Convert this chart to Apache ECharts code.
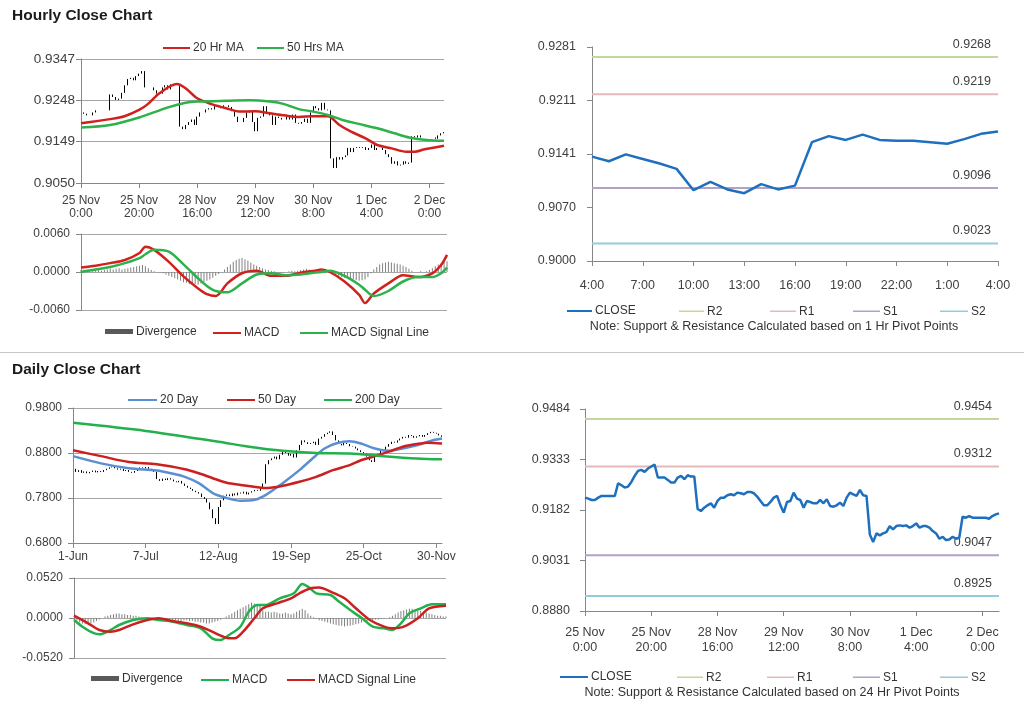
<!DOCTYPE html>
<html><head><meta charset="utf-8">
<script src="https://cdn.jsdelivr.net/npm/echarts@6.0.0/dist/echarts.min.js"></script>
<style>html,body{margin:0;padding:0;background:#fff}#c{width:1024px;height:706px}</style>
</head><body><div id="c"></div>
<script>
// ---------- DATA ----------
const hourTickHours = [0,20,40,60,80,100,120];
const hourTickLabels = ['25 Nov\n0:00','25 Nov\n20:00','28 Nov\n16:00','29 Nov\n12:00','30 Nov\n8:00','1 Dec\n4:00','2 Dec\n0:00'];
const hourlyClose = [0.9219,0.9216,0.9212,0.9212,0.9219,0.9224,0.9224,0.9224,0.9224,0.9224,
0.9262,0.9256,0.9249,0.9252,0.9266,0.9284,0.9299,0.9302,0.9296,0.9306,
0.9312,0.9318,0.9279,0.9279,0.9279,0.9272,0.9264,0.9264,0.9279,0.9284,
0.9274,0.9286,0.9282,0.9282,0.9185,0.9179,0.9189,0.9196,0.9202,0.9189,
0.9209,0.9219,0.9219,0.9226,0.9229,0.9226,0.9234,0.9232,0.9229,0.9236,
0.9236,0.9232,0.9222,0.9209,0.9196,0.9196,0.9206,0.9219,0.9224,0.9196,
0.9174,0.9206,0.9209,0.9234,0.9216,0.9212,0.9189,0.9209,0.9206,0.9202,
0.9202,0.9212,0.9202,0.9214,0.9194,0.9192,0.9196,0.9204,0.9194,0.9219,
0.9234,0.9229,0.9224,0.9242,0.9226,0.9224,0.9109,0.9086,0.9112,0.9106,
0.9112,0.9116,0.9134,0.9124,0.9134,0.9136,0.9134,0.9136,0.9129,0.9134,
0.9142,0.9129,0.9134,0.9134,0.9129,0.9119,0.9112,0.9096,0.9102,0.9092,
0.9094,0.9102,0.9096,0.9099,0.9162,0.9159,0.9164,0.9159,0.9159,0.9159,
0.9159,0.9159,0.9156,0.9164,0.9169,0.9172];
const ma20Hours = [0,10,15,20,23,27,33,36,40,45,50,55,60,65,70,75,80,85,89,93,98,102,107,112,115,118,125];
const ma20Hr = [0.9193,0.9203,0.9210,0.9225,0.9239,0.9265,0.9287,0.9277,0.9253,0.9239,0.9229,0.9221,0.9222,0.9217,0.9212,0.9208,0.9210,0.9210,0.9189,0.9173,0.9157,0.9141,0.9133,0.9125,0.9125,0.9130,0.9139];
const ma50Hours = [0,10,20,30,36,40,50,58,65,70,75,80,85,90,96,102,108,113,119,125];
const ma50Hr = [0.9183,0.9189,0.9207,0.9231,0.9242,0.9245,0.9247,0.9248,0.9245,0.9239,0.9227,0.9221,0.9213,0.9201,0.9191,0.9181,0.9169,0.9159,0.9153,0.9151];
const hourlyPriceTicks = [0.9050,0.9149,0.9248,0.9347];

const macdHours = [0,5,10,15,20,22,25,30,35,40,43,46,50,55,60,65,70,75,80,82,85,90,95,97,100,105,110,115,120,123,125];
const hourlyMacd = [0.0007,0.0010,0.0014,0.0019,0.0030,0.0040,0.0035,0.0016,-0.0007,-0.0026,-0.0035,-0.0038,-0.0018,-0.0002,0.0002,-0.0006,-0.0006,-0.0001,0.0002,0.0004,0.0000,-0.0015,-0.0036,-0.0049,-0.0034,-0.0018,-0.0005,-0.0008,-0.0002,0.0011,0.0027];
const hourlySignal = [0.0000,0.0004,0.0008,0.0014,0.0022,0.0028,0.0035,0.0032,0.0012,-0.0010,-0.0022,-0.0030,-0.0032,-0.0018,-0.0004,-0.0002,-0.0005,-0.0004,-0.0001,0.0000,0.0002,-0.0006,-0.0020,-0.0028,-0.0038,-0.0030,-0.0015,-0.0008,-0.0008,-0.0002,0.0007];
const hourlyDivergence = [0.0003,0.0004,0.0004,0.0003,0.0003,0.0004,0.0003,0.0002,0.0003,0.0004,
0.0005,0.0004,0.0005,0.0006,0.0004,0.0005,0.0006,0.0007,0.0008,0.0009,
0.0010,0.0011,0.0009,0.0006,0.0003,0.0001,0.0000,-0.0001,-0.0002,-0.0004,
-0.0006,-0.0008,-0.0010,-0.0012,-0.0014,-0.0016,-0.0017,-0.0019,-0.0020,-0.0019,
-0.0020,-0.0018,-0.0016,-0.0014,-0.0012,-0.0009,-0.0006,-0.0003,0.0000,0.0004,
0.0008,0.0012,0.0016,0.0019,0.0021,0.0022,0.0020,0.0018,0.0015,0.0012,
0.0010,0.0008,0.0006,0.0004,0.0003,0.0002,0.0001,-0.0001,-0.0002,-0.0001,
0.0000,0.0001,0.0002,0.0001,0.0002,0.0003,0.0004,0.0005,0.0004,0.0003,
0.0003,0.0002,0.0002,0.0001,0.0000,-0.0001,-0.0003,-0.0005,-0.0007,-0.0008,
-0.0009,-0.0010,-0.0011,-0.0012,-0.0013,-0.0014,-0.0013,-0.0012,-0.0008,-0.0002,
0.0004,0.0008,0.0012,0.0014,0.0015,0.0016,0.0015,0.0014,0.0013,0.0012,
0.0010,0.0008,0.0005,0.0002,0.0000,0.0000,0.0001,0.0000,0.0001,0.0003,
0.0006,0.0009,0.0012,0.0014,0.0016,0.0017];
const hourlyMacdTicks = [-0.0060,0.0000,0.0060];

const pivotHourLabels = ['4:00','7:00','10:00','13:00','16:00','19:00','22:00','1:00','4:00'];
const pivotClose1h = [0.9137,0.9131,0.9140,0.9134,0.9128,0.9121,0.9093,0.9104,0.9094,0.9089,0.9101,0.9094,0.9099,0.9156,0.9164,0.9159,0.9166,0.9159,0.9158,0.9158,0.9156,0.9154,0.9160,0.9167,0.9170];
const pivotNames = ['R2','R1','S1','S2'];
const pivot1hLevels = [0.9268,0.9219,0.9096,0.9023];
const pivot24hLevels = [0.9454,0.9312,0.9047,0.8925];
const pivot1hTicks = [0.9000,0.9070,0.9141,0.9211,0.9281];
const pivot24hTicks = [0.8880,0.9031,0.9182,0.9333,0.9484];

const dayTickDays = [0,26,52,78,104,130];
const dayTickLabels = ['1-Jun','7-Jul','12-Aug','19-Sep','25-Oct','30-Nov'];
const dailyClose = [0.845,0.838,0.842,0.836,0.839,0.835,0.838,0.841,0.837,0.840,
0.838,0.842,0.845,0.848,0.850,0.846,0.843,0.845,0.840,0.842,
0.838,0.836,0.840,0.843,0.848,0.846,0.849,0.845,0.843,0.838,
0.822,0.818,0.823,0.820,0.824,0.821,0.817,0.815,0.818,0.812,
0.807,0.803,0.800,0.796,0.793,0.790,0.782,0.778,0.770,0.755,
0.735,0.722,0.760,0.775,0.785,0.788,0.784,0.790,0.786,0.792,
0.790,0.794,0.788,0.792,0.795,0.798,0.796,0.800,0.812,0.855,
0.864,0.868,0.872,0.866,0.876,0.883,0.880,0.874,0.878,0.870,
0.886,0.898,0.908,0.904,0.900,0.902,0.905,0.898,0.912,0.916,
0.922,0.925,0.928,0.920,0.908,0.900,0.897,0.902,0.900,0.895,
0.894,0.890,0.886,0.882,0.879,0.872,0.864,0.860,0.872,0.878,
0.886,0.884,0.894,0.900,0.905,0.903,0.908,0.912,0.916,0.914,
0.920,0.918,0.914,0.917,0.920,0.916,0.920,0.924,0.927,0.925,
0.923,0.919,0.916];
const ma20Days = [0,10,20,30,35,40,45,50,55,60,65,69,75,81,87,90,94,99,103,108,113,118,123,128,132];
const ma20Day = [0.873,0.857,0.846,0.841,0.835,0.827,0.813,0.791,0.780,0.774,0.776,0.787,0.813,0.842,0.875,0.890,0.901,0.906,0.901,0.890,0.885,0.890,0.897,0.907,0.912];
const ma50Days = [0,10,20,30,40,45,50,55,60,66,69,75,81,87,93,99,103,108,113,118,123,127,132];
const ma50Day = [0.886,0.873,0.860,0.855,0.844,0.835,0.824,0.814,0.809,0.804,0.802,0.807,0.816,0.827,0.842,0.853,0.864,0.873,0.883,0.894,0.900,0.903,0.901];
const ma200Days = [0,26,52,63,75,87,99,111,123,132];
const ma200Day = [0.947,0.929,0.905,0.894,0.885,0.880,0.879,0.873,0.868,0.866];
const dailyPriceTicks = [0.6800,0.7800,0.8800,0.9800];

const dMacdDays = [0,3,7,9,13,16,21,26,30,35,40,45,49,52,55,59,62,65,68,73,78,81,83,86,91,94,98,103,106,110,113,116,119,123,127,132];
const dailyMacd = [-0.0026,-0.0113,-0.0198,-0.0211,-0.0156,-0.0091,-0.0026,-0.0004,-0.0026,-0.0048,-0.0091,-0.0134,-0.0264,-0.0286,-0.0221,-0.0113,0.0082,0.0169,0.0169,0.0256,0.0321,0.0443,0.0408,0.0321,0.0299,0.0213,0.0104,-0.0026,-0.0113,-0.0134,-0.0156,-0.0069,0.0061,0.0126,0.0178,0.0178];
const dSignalDays = [0,5,9,13,16,21,26,30,35,40,45,49,54,57,60,64,67,72,77,80,84,87,91,96,100,105,110,113,117,122,126,132];
const dailySignal = [0.0030,-0.0069,-0.0156,-0.0178,-0.0156,-0.0082,-0.0026,-0.0004,-0.0039,-0.0069,-0.0113,-0.0178,-0.0256,-0.0264,-0.0178,-0.0004,0.0126,0.0191,0.0256,0.0321,0.0386,0.0395,0.0343,0.0256,0.0126,-0.0026,-0.0113,-0.0134,-0.0113,-0.0004,0.0126,0.0160];
const dailyDivergence = [-0.002,-0.004,-0.006,-0.007,-0.008,-0.008,-0.007,-0.006,-0.004,-0.002,
0.000,0.002,0.003,0.004,0.005,0.006,0.006,0.005,0.005,0.004,
0.004,0.003,0.003,0.002,0.001,0.000,0.000,0.000,0.000,-0.001,
-0.001,-0.002,-0.002,-0.003,-0.002,-0.003,-0.003,-0.004,-0.004,-0.003,
-0.003,-0.004,-0.004,-0.005,-0.005,-0.006,-0.006,-0.007,-0.007,-0.006,
-0.005,-0.004,-0.002,0.000,0.002,0.004,0.006,0.008,0.010,0.012,
0.014,0.016,0.018,0.020,0.019,0.018,0.016,0.010,0.008,0.008,
0.007,0.008,0.007,0.006,0.006,0.007,0.006,0.005,0.006,0.008,
0.010,0.012,0.010,0.006,0.003,0.001,-0.001,-0.003,-0.004,-0.005,
-0.006,-0.007,-0.008,-0.009,-0.010,-0.010,-0.011,-0.010,-0.010,-0.009,
-0.008,-0.007,-0.006,-0.005,-0.004,-0.003,-0.003,-0.002,-0.002,-0.001,
-0.001,0.000,0.001,0.003,0.005,0.007,0.009,0.010,0.011,0.012,
0.012,0.011,0.010,0.009,0.008,0.007,0.006,0.005,0.004,0.003,
0.003,0.002,0.002];
const dailyMacdTicks = [-0.0520,0.0000,0.0520];

// ---------- STYLE ----------
const FONT = '"Liberation Sans", Arial, sans-serif';
const TXT = '#404040', AXIS = '#868686', GRIDC = '#a6a6a6';
const pivotColors = ['#c3d69b','#e6b9b8','#b3a2c7','#93cddd'];
const CLOSEC = '#1f6fbf';

function pairs(xs, ys){ return xs.map((x,i)=>[x, ys[i]]); }
function ohlc(closes){ return closes.map((c,i)=>{ const o = i ? closes[i-1] : c; return [i,o,c,Math.min(o,c),Math.max(o,c)]; }); }

function yAx(gi, ticks, opt){
  const n = ticks.length;
  return Object.assign({
    type:'value', gridIndex:gi, min:ticks[0], max:ticks[n-1], interval:(ticks[n-1]-ticks[0])/(n-1),
    axisLine:{show:true, lineStyle:{color:AXIS, width:1}},
    axisTick:{show:true, inside:false, length:5, lineStyle:{color:AXIS}},
    axisLabel:{color:TXT, fontFamily:FONT, fontSize:12, margin:8,
      formatter:(v)=>{ let bi=0,bd=1e9; ticks.forEach((t,i)=>{const d=Math.abs(t-v); if(d<bd){bd=d;bi=i;}}); return ticks[bi].toFixed(4); }},
    splitLine:{show:false}
  }, opt||{});
}
function xAx(gi, max, tickVals, labels, opt){
  return Object.assign({
    type:'value', gridIndex:gi, min:0, max:max,
    axisLine:{show:true, onZero:false, lineStyle:{color:AXIS, width:1}},
    axisTick:{show:true, customValues:tickVals, length:5, lineStyle:{color:AXIS}},
    axisLabel:{customValues:tickVals, color:TXT, fontFamily:FONT, fontSize:12, margin:8,
      formatter:(v)=>{ const i = tickVals.indexOf(Math.round(v)); return i>=0 ? labels[i] : ''; }},
    splitLine:{show:false}
  }, opt||{});
}
function lg(name, left, cy, w, h, color){
  const item = {name:name};
  if (color) item.itemStyle = {color:color};
  return {left:left, top:cy-h/2, padding:0, itemWidth:w, itemHeight:h, icon:'rect', itemGap:0,
    data:[item], selectedMode:false, formatter:(n)=>n.split('|')[0],
    textStyle:{fontSize:12, color:'#333', fontFamily:FONT, padding:[0,0,0,-2]}};
}
function lineS(name, xi, data, color, width, smooth){
  return {name:name, type:'line', xAxisIndex:xi, yAxisIndex:xi, data:data, color:color,
    showSymbol:false, symbol:'none', smooth:smooth||false, lineStyle:{color:color, width:width||2.5}, silent:true, z:3};
}
function pivotS(name, xi, xMax, level, color){
  return {name:name, type:'line', xAxisIndex:xi, yAxisIndex:xi, color:color,
    showSymbol:true, symbol:'circle', symbolSize:0.01, silent:true, z:2,
    lineStyle:{color:color, width:2}, itemStyle:{color:color},
    data:[[0, level], {value:[xMax, level],
      label:{show:true, position:'top', align:'right', offset:[-7,-1], formatter:level.toFixed(4),
             color:TXT, fontFamily:FONT, fontSize:12.5}}]};
}

const grids = [
  {left:81, top:59, width:363, height:124},   // 0 hourly price
  {left:81, top:234, width:366, height:76},   // 1 hourly macd
  {left:592, top:47, width:406, height:214},  // 2 1h pivot
  {left:73, top:408, width:369, height:135},  // 3 daily price
  {left:74, top:578, width:372, height:80},   // 4 daily macd
  {left:585, top:409, width:414, height:202}  // 5 24h pivot
];

const hidX = (gi,max)=>({type:'value', gridIndex:gi, min:0, max:max, show:false});
const xAxes = [
  xAx(0, 125, hourTickHours, hourTickLabels, {axisLabel:{customValues:hourTickHours, color:TXT, fontFamily:FONT, fontSize:12, margin:11, lineHeight:13,
      formatter:(v)=>{const i=hourTickHours.indexOf(Math.round(v)); return i>=0?hourTickLabels[i]:'';}}}),
  hidX(1,125),
  {type:'value', gridIndex:2, min:0, max:24, interval:3,
    axisLine:{show:true, lineStyle:{color:AXIS}}, axisTick:{show:true, length:5, lineStyle:{color:AXIS}},
    axisLabel:{color:TXT, fontFamily:FONT, fontSize:12.5, margin:18, formatter:(v)=>pivotHourLabels[Math.round(v/3)]||''},
    splitLine:{show:false}},
  xAx(3, 132, dayTickDays, dayTickLabels, {axisLabel:{customValues:dayTickDays, color:TXT, fontFamily:FONT, fontSize:12, margin:8,
      formatter:(v)=>{const i=dayTickDays.indexOf(Math.round(v)); return i>=0?dayTickLabels[i]:'';}}}),
  hidX(4,132),
  xAx(5, 125, hourTickHours, hourTickLabels, {axisLabel:{customValues:hourTickHours, color:TXT, fontFamily:FONT, fontSize:12.5, margin:14, lineHeight:15,
      formatter:(v)=>{const i=hourTickHours.indexOf(Math.round(v)); return i>=0?hourTickLabels[i]:'';}}})
];
const gridSplit = {show:true, lineStyle:{color:GRIDC, width:1}};
const yAxes = [
  yAx(0, hourlyPriceTicks, {splitLine:gridSplit}),
  yAx(1, hourlyMacdTicks, {splitLine:gridSplit}),
  yAx(2, pivot1hTicks),
  yAx(3, dailyPriceTicks, {splitLine:gridSplit}),
  yAx(4, dailyMacdTicks, {splitLine:gridSplit}),
  yAx(5, pivot24hTicks)
];
yAxes[0].axisLabel.fontSize = 13.5; yAxes[0].axisLabel.margin = 6;
yAxes[1].axisLabel.margin = 11;
yAxes[2].axisLabel.fontSize = 12.5; yAxes[2].axisLabel.margin = 16;
yAxes[3].axisLabel.margin = 11;
yAxes[4].axisLabel.margin = 11;
yAxes[5].axisLabel.fontSize = 12.5; yAxes[5].axisLabel.margin = 15;

const series = [];
// hourly price
series.push({name:'hourlyBars', type:'candlestick', xAxisIndex:0, yAxisIndex:0, data:ohlc(hourlyClose),
  encode:{x:0, y:[1,2,3,4]}, barWidth:1, silent:true,
  itemStyle:{color:'#000', color0:'#000', borderColor:'#000', borderColor0:'#000', borderWidth:1}});
series.push(lineS('20 Hr MA', 0, pairs(ma20Hours, ma20Hr), '#d0211f', 2.5, 0.3));
series.push(lineS('50 Hrs MA', 0, pairs(ma50Hours, ma50Hr), '#2db24b', 2.5, 0.3));
// hourly macd
series.push({name:'Divergence|h', type:'bar', xAxisIndex:1, yAxisIndex:1, data:hourlyDivergence.map((v,i)=>[i,v]),
  barWidth:1, color:'#808080', itemStyle:{color:'#808080'}, silent:true});
series.push(lineS('MACD|h', 1, pairs(macdHours, hourlyMacd), '#d0211f', 2.5, 0.3));
series.push(lineS('MACD Signal Line|h', 1, pairs(macdHours, hourlySignal), '#2db24b', 2.5, 0.3));
// 1h pivot
pivotNames.forEach((n,i)=>series.push(pivotS(n+'|1', 2, 24, pivot1hLevels[i], pivotColors[i])));
series.push(lineS('CLOSE|1', 2, pivotClose1h.map((v,i)=>[i,v]), CLOSEC, 2.5));
// daily price
series.push({name:'dailyBars', type:'candlestick', xAxisIndex:3, yAxisIndex:3, data:ohlc(dailyClose),
  encode:{x:0, y:[1,2,3,4]}, barWidth:1, silent:true,
  itemStyle:{color:'#000', color0:'#000', borderColor:'#000', borderColor0:'#000', borderWidth:1}});
series.push(lineS('20 Day', 3, pairs(ma20Days, ma20Day), '#5b8fd3', 2.5, 0.3));
series.push(lineS('50 Day', 3, pairs(ma50Days, ma50Day), '#cc1f1f', 2.5, 0.3));
series.push(lineS('200 Day', 3, pairs(ma200Days, ma200Day), '#22b14c', 2.5, 0.3));
// daily macd
series.push({name:'Divergence|d', type:'bar', xAxisIndex:4, yAxisIndex:4, data:dailyDivergence.map((v,i)=>[i,v]),
  barWidth:1, color:'#808080', itemStyle:{color:'#808080'}, silent:true});
series.push(lineS('MACD|d', 4, pairs(dMacdDays, dailyMacd), '#22b14c', 2.5, 0.3));
series.push(lineS('MACD Signal Line|d', 4, pairs(dSignalDays, dailySignal), '#cc1f1f', 2.5, 0.3));
// 24h pivot
pivotNames.forEach((n,i)=>series.push(pivotS(n+'|24', 5, 125, pivot24hLevels[i], pivotColors[i])));
series.push(lineS('CLOSE|24', 5, hourlyClose.map((v,i)=>[i,v]), CLOSEC, 2.5));

const legends = [
  lg('20 Hr MA', 163, 43, 27, 2),
  lg('50 Hrs MA', 257, 43, 27, 2),
  lg('Divergence|h', 105, 328, 28, 5, '#595959'),
  lg('MACD|h', 213, 328, 28, 2),
  lg('MACD Signal Line|h', 300, 328, 28, 2),
  lg('CLOSE|1', 567, 306, 25, 2),
  lg('R2|1', 679, 306, 25, 1.5),
  lg('R1|1', 770, 306, 26, 1.5),
  lg('S1|1', 853, 306, 27, 1.5),
  lg('S2|1', 940, 306, 28, 1.5),
  lg('20 Day', 128, 395, 29, 2),
  lg('50 Day', 227, 395, 28, 2),
  lg('200 Day', 324, 395, 28, 2),
  lg('Divergence|d', 91, 675, 28, 5, '#595959'),
  lg('MACD|d', 201, 675, 28, 2),
  lg('MACD Signal Line|d', 287, 675, 28, 2),
  lg('CLOSE|24', 560, 672, 28, 2),
  lg('R2|24', 677, 672, 26, 1.5),
  lg('R1|24', 767, 672, 27, 1.5),
  lg('S1|24', 853, 672, 27, 1.5),
  lg('S2|24', 940, 672, 28, 1.5)
];

const graphic = [
  {type:'text', left:12, top:8, style:{text:'Hourly Close Chart', font:'bold 15.5px '+FONT, fill:'#1a1a1a'}},
  {type:'text', left:12, top:362, style:{text:'Daily Close Chart', font:'bold 15.5px '+FONT, fill:'#1a1a1a'}},
  {type:'line', shape:{x1:0, y1:352.5, x2:1024, y2:352.5}, style:{stroke:'#c8c8c8', lineWidth:1}},
  {type:'text', x:774, y:327, style:{text:'Note: Support & Resistance Calculated based on 1 Hr Pivot Points', textAlign:'center', textVerticalAlign:'middle', font:'12.5px '+FONT, fill:'#333'}},
  {type:'text', x:772, y:693, style:{text:'Note: Support & Resistance Calculated based on 24 Hr Pivot Points', textAlign:'center', textVerticalAlign:'middle', font:'12.5px '+FONT, fill:'#333'}}
];

const chart = echarts.init(document.getElementById('c'), null, {renderer:'canvas'});
chart.setOption({
  animation:false, backgroundColor:'#ffffff',
  textStyle:{fontFamily:FONT},
  grid:grids, xAxis:xAxes, yAxis:yAxes, legend:legends, series:series, graphic:graphic
});
</script></body></html>
